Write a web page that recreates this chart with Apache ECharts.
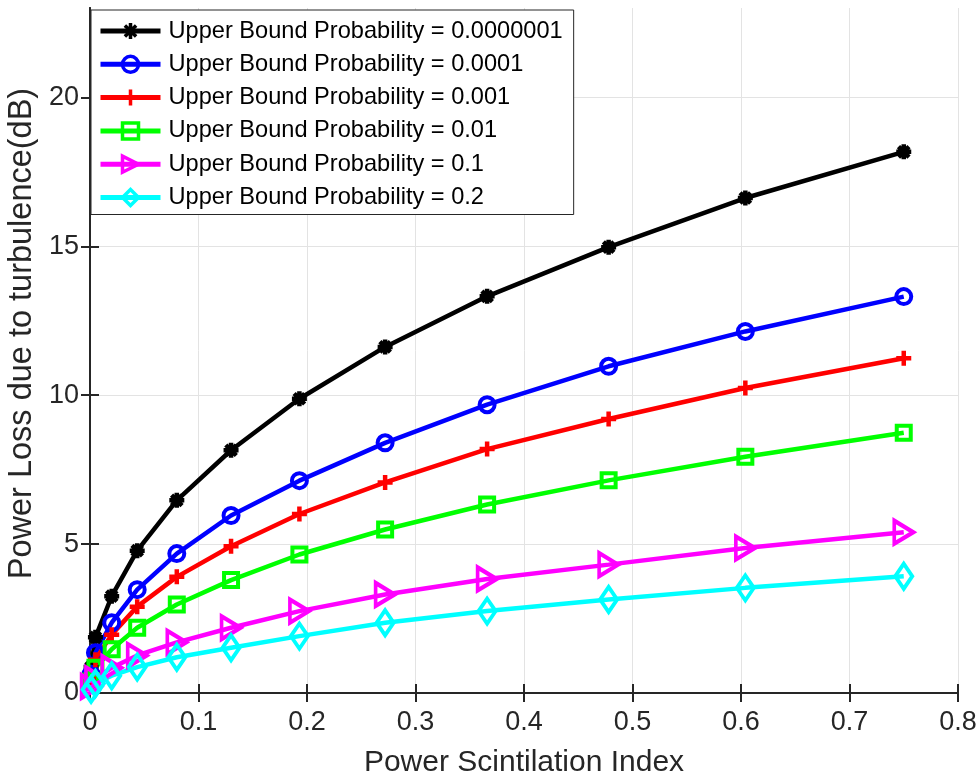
<!DOCTYPE html>
<html>
<head>
<meta charset="utf-8">
<title>Power Loss vs Scintillation Index</title>
<script src="https://cdn.jsdelivr.net/npm/echarts@6/dist/echarts.min.js"></script>
<style>
  html, body { margin: 0; padding: 0; background: #fff; }
  #chart { width: 977px; height: 777px; }
</style>
</head>
<body>
<div id="chart"></div>
<script>
// Power scintillation index (x) shared by every curve
const scintIndex = [0.001, 0.005, 0.02, 0.0435, 0.08, 0.13, 0.193, 0.272, 0.366, 0.478, 0.604, 0.75];

// Power loss due to turbulence (dB) for each upper-bound probability
const loss_1e7 = [0.87, 1.87, 3.25, 4.78, 6.47, 8.15, 9.88, 11.62, 13.32, 14.97, 16.62, 18.17];
const loss_1e4 = [0.63, 1.35, 2.36, 3.47, 4.68, 5.96, 7.13, 8.40, 9.68, 10.97, 12.14, 13.31];
const loss_1e3 = [0.52, 1.12, 1.96, 2.90, 3.90, 4.93, 6.01, 7.07, 8.19, 9.20, 10.24, 11.24];
const loss_1e2 = [0.39, 0.85, 1.47, 2.19, 2.97, 3.79, 4.65, 5.49, 6.33, 7.14, 7.93, 8.74];
const loss_1e1 = [0.22, 0.48, 0.85, 1.26, 1.70, 2.19, 2.75, 3.31, 3.83, 4.31, 4.87, 5.40];
const loss_2e1 = [0.12, 0.32, 0.58, 0.87, 1.20, 1.52, 1.91, 2.36, 2.75, 3.14, 3.53, 3.92];

const seriesNames = [
  'Upper Bound Probability = 0.0000001',
  'Upper Bound Probability = 0.0001',
  'Upper Bound Probability = 0.001',
  'Upper Bound Probability = 0.01',
  'Upper Bound Probability = 0.1',
  'Upper Bound Probability = 0.2'
];

// Axis ranges and tick positions
const xTicks = { min: 0, max: 0.8, step: 0.1 };
const yTicks = { min: 0, max: 23, step: 5 };
const yTickValues = [0, 5, 10, 15, 20];

const FONT = 'Liberation Sans, Arial, Helvetica, sans-serif';
const AXIS_COLOR = '#262626';
const GRID_COLOR = '#e3e3e3';

// Marker shapes
const ASTERISK = 'path://M0,-10L0,10M-10,0L10,0M-7,-7L7,7M-7,7L7,-7';
const PLUS = 'path://M0,-10L0,10M-10,0L10,0';

const styles = [
  { color: '#000000', symbol: ASTERISK, size: 15, rotate: 0, bw: 4.5 },
  { color: '#0000ff', symbol: 'circle', size: 15, rotate: 0, bw: 4 },
  { color: '#ff0000', symbol: PLUS, size: 15, rotate: 0, bw: 4.5 },
  { color: '#00ff00', symbol: 'rect', size: 14, rotate: 0, bw: 4 },
  { color: '#ff00ff', symbol: 'triangle', size: [23, 19], rotate: -90, bw: 4 },
  { color: '#00ffff', symbol: 'diamond', size: [17, 25], rotate: 0, bw: 4 }
];

const lossSets = [loss_1e7, loss_1e4, loss_1e3, loss_1e2, loss_1e1, loss_2e1];

const series = lossSets.map((vals, i) => {
  const s = styles[i];
  return {
    name: seriesNames[i],
    type: 'line',
    data: scintIndex.map((x, k) => [x, vals[k]]),
    symbol: s.symbol,
    symbolSize: s.size,
    symbolRotate: s.rotate,
    showAllSymbol: true,
    clip: false,
    animation: false,
    lineStyle: { color: s.color, width: 4.5 },
    itemStyle: { color: 'rgba(255,255,255,0)', borderColor: s.color, borderWidth: s.bw }
  };
});

const chart = echarts.init(document.getElementById('chart'), null, { renderer: 'canvas' });

const baseAxisLine = { show: true, lineStyle: { color: AXIS_COLOR, width: 2 } };

chart.setOption({
  backgroundColor: '#ffffff',
  animation: false,
  textStyle: { fontFamily: FONT },
  grid: { left: 90, right: 19, top: 8, bottom: 84, containLabel: false, outerBoundsMode: 'none' },
  xAxis: [
    {
      type: 'value',
      min: xTicks.min, max: xTicks.max, interval: xTicks.step,
      position: 'bottom',
      name: 'Power Scintilation Index',
      nameLocation: 'middle',
      nameGap: 55,
      nameTextStyle: { fontSize: 30, color: AXIS_COLOR, fontFamily: FONT },
      axisLine: baseAxisLine,
      axisTick: { show: true, inside: true, length: 9, lineStyle: { color: AXIS_COLOR, width: 2 } },
      axisLabel: { fontSize: 27, color: AXIS_COLOR, margin: 16, fontFamily: FONT,
        formatter: v => (Math.round(v * 10) / 10).toString() },
      splitLine: { show: true, lineStyle: { color: GRID_COLOR, width: 1 } }
    },
    {
      type: 'value',
      min: xTicks.min, max: xTicks.max, interval: xTicks.step,
      position: 'top',
      axisLine: baseAxisLine,
      axisTick: { show: true, inside: true, length: 9, lineStyle: { color: AXIS_COLOR, width: 2 } },
      axisLabel: { show: false },
      splitLine: { show: false }
    }
  ],
  yAxis: [
    {
      type: 'value',
      min: yTicks.min, max: yTicks.max, interval: yTicks.step,
      position: 'left',
      name: 'Power Loss due to turbulence(dB)',
      nameLocation: 'middle',
      nameGap: 44,
      nameTextStyle: { fontSize: 32.5, color: AXIS_COLOR, fontFamily: FONT, padding: [0, 0, 0, 34] },
      axisLine: baseAxisLine,
      axisTick: { show: true, inside: true, length: 9, customValues: yTickValues,
        lineStyle: { color: AXIS_COLOR, width: 2 } },
      axisLabel: { fontSize: 27, color: AXIS_COLOR, margin: 11, fontFamily: FONT, customValues: yTickValues },
      splitLine: { show: true, lineStyle: { color: GRID_COLOR, width: 1 } }
    },
    {
      type: 'value',
      min: yTicks.min, max: yTicks.max, interval: yTicks.step,
      position: 'right',
      axisLine: baseAxisLine,
      axisTick: { show: true, inside: true, length: 9, customValues: yTickValues,
        lineStyle: { color: AXIS_COLOR, width: 2 } },
      axisLabel: { show: false },
      splitLine: { show: false }
    }
  ],
  legend: {
    show: true,
    orient: 'vertical',
    left: 91,
    top: 10,
    padding: [9, 11, 5, 7],
    itemWidth: 60,
    itemHeight: 20,
    itemGap: 9.3,
    backgroundColor: '#ffffff',
    borderColor: AXIS_COLOR,
    borderWidth: 1,
    borderRadius: 0,
    symbolRotate: 'inherit',
    lineStyle: { width: 5 },
    itemStyle: { borderWidth: 3.5 },
    textStyle: { fontSize: 23.6, color: '#000000', fontFamily: FONT, padding: [0, 0, 0, 3] },
    data: seriesNames,
    z: 10
  },
  series: series
});
</script>
</body>
</html>
